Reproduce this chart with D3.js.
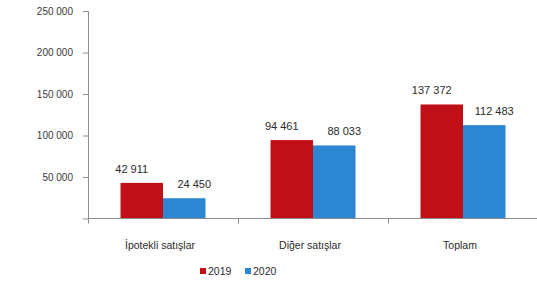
<!DOCTYPE html>
<html>
<head>
<meta charset="utf-8">
<script src="https://cdn.jsdelivr.net/npm/d3@7"></script>
<style>
  body { margin: 0; background: #fff; }
  text { font-family: "Liberation Sans", Arial, sans-serif; }
</style>
</head>
<body>
<div class="vis1"></div>
<script>
// data
var categories = ["İpotekli satışlar", "Diğer satışlar", "Toplam"];
var series = ["2019", "2020"];
var values2019 = [42911, 94461, 137372];
var values2020 = [24450, 88033, 112483];
var yTicks = [50000, 100000, 150000, 200000, 250000];
var colors = ["#c00f17", "#2c86d1"];

var W = 537, H = 294;
var margin = {top: 11, right: 0, bottom: 76, left: 88};

var svg = d3.select(".vis1")
  .append("svg")
  .attr("width", W)
  .attr("height", H);

var fmt = d3.formatLocale({decimal: ",", thousands: " ", grouping: [3], currency: ["", ""]}).format(",d");

var x0 = d3.scaleBand()
  .domain(categories)
  .range([margin.left, W - margin.right + 1])
  .paddingInner(0).paddingOuter(0);

var x1 = d3.scaleBand()
  .domain(series)
  .range([0, x0.bandwidth()])
  .paddingInner(0).paddingOuter(0.765);

var y = d3.scaleLinear()
  .domain([0, 250000])
  .range([H - margin.bottom + 0.5, margin.top]);

// y axis
var yAxis = svg.append("g")
  .attr("transform", "translate(" + margin.left + ",0)")
  .call(d3.axisLeft(y).tickValues(yTicks).tickFormat(fmt).tickSizeOuter(0).tickSize(5).tickPadding(10));
yAxis.select(".domain").attr("stroke", "#8c8c8c");
yAxis.selectAll(".tick line").attr("stroke", "#8c8c8c");
yAxis.selectAll("text").attr("font-size", "10px").attr("fill", "#3a3a3a");

// bars
var rows = categories.map(function(c, i) {
  return [{cat: c, s: series[0], v: values2019[i], k: 0},
          {cat: c, s: series[1], v: values2020[i], k: 1}];
});
var flat = [].concat.apply([], rows);

svg.selectAll("rect.bar")
  .data(flat)
  .enter()
  .append("rect")
    .attr("class", "bar")
    .attr("x", function(d) { return x0(d.cat) + x1(d.s); })
    .attr("y", function(d) { return y(d.v); })
    .attr("width", x1.bandwidth())
    .attr("height", function(d) { return y(0) - y(d.v); })
    .attr("fill", function(d) { return colors[d.k]; });

// value labels (excel puts them a bit outward)
svg.selectAll("text.val")
  .data(flat)
  .enter()
  .append("text")
    .attr("class", "val")
    .attr("x", function(d) { return x0(d.cat) + x1(d.s) + x1.bandwidth() / 2 + (d.k === 0 ? -10 : 10); })
    .attr("y", function(d) { return y(d.v) - 10; })
    .attr("text-anchor", "middle")
    .attr("font-size", "11px")
    .attr("fill", "#2a2a2a")
    .text(function(d) { return fmt(d.v); });

// x axis
var xAxis = svg.append("g")
  .attr("transform", "translate(0," + y(0) + ")");
xAxis.append("line")
  .attr("x1", margin.left).attr("x2", W)
  .attr("stroke", "#8c8c8c");
xAxis.selectAll("line.tk")
  .data(categories)
  .enter()
  .append("line")
    .attr("class", "tk")
    .attr("x1", function(d) { return Math.round(x0(d)) + 0.5; })
    .attr("x2", function(d) { return Math.round(x0(d)) + 0.5; })
    .attr("y1", 0).attr("y2", 5)
    .attr("stroke", "#8c8c8c");
xAxis.selectAll("text")
  .data(categories)
  .enter()
  .append("text")
    .attr("x", function(d) { return x0(d) + x0.bandwidth() / 2 - 3; })
    .attr("y", 30)
    .attr("text-anchor", "middle")
    .attr("font-size", "10.5px")
    .attr("fill", "#2a2a2a")
    .text(function(d) { return d; });

// legend
var legend = svg.append("g").attr("transform", "translate(200,271)");
var items = legend.selectAll("g")
  .data(series)
  .enter()
  .append("g")
    .attr("transform", function(d, i) { return "translate(" + (i * 45) + ",0)"; });
items.append("rect")
  .attr("x", 0).attr("y", -3)
  .attr("width", 6).attr("height", 6)
  .attr("fill", function(d, i) { return colors[i]; });
items.append("text")
  .attr("x", 8).attr("y", 4)
  .attr("font-size", "10.5px")
  .attr("fill", "#2a2a2a")
  .text(function(d) { return d; });
</script>
</body>
</html>
